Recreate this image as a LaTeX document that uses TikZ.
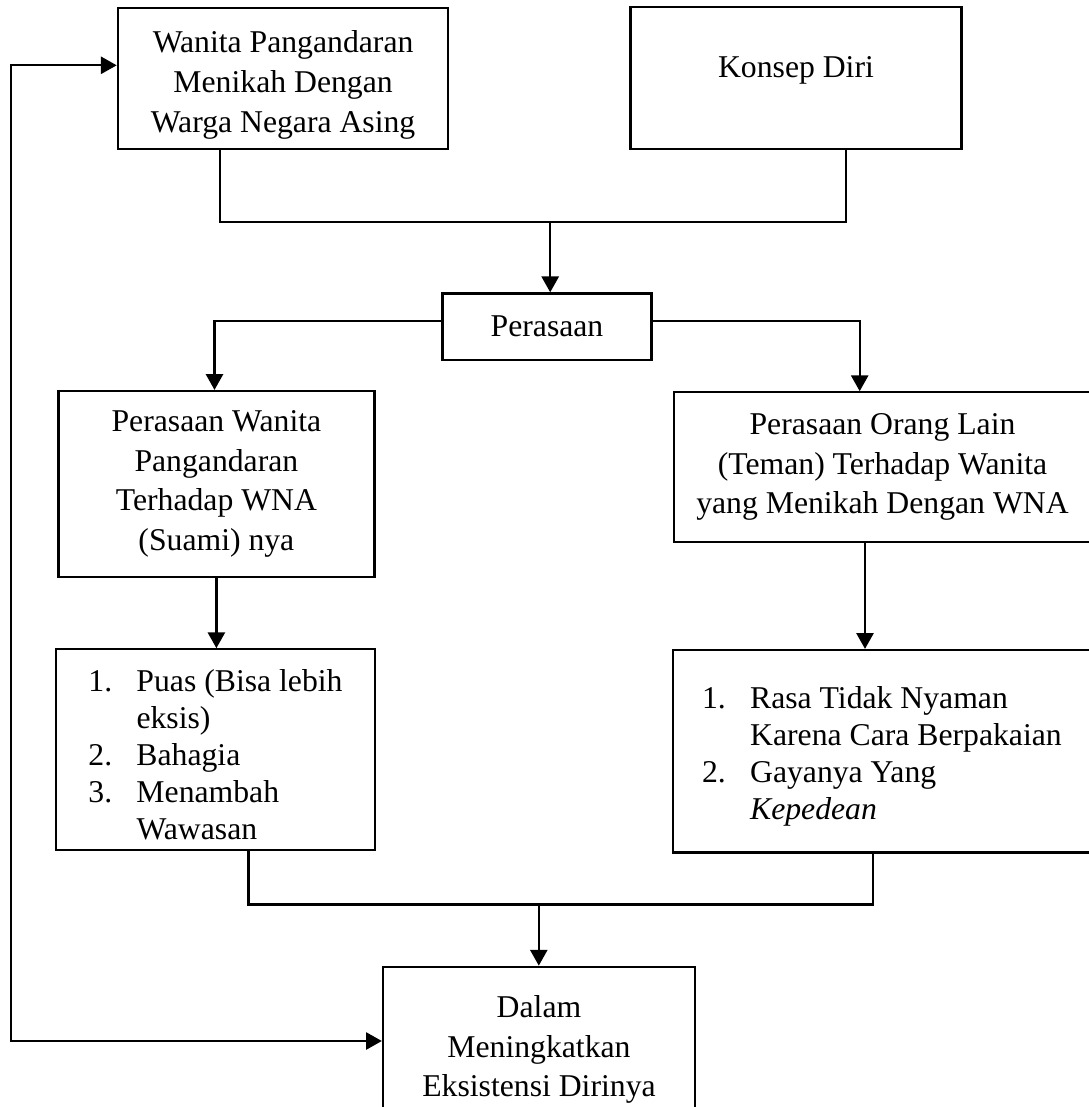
\documentclass[tikz,border=0pt]{standalone}
\usepackage{fontspec}
\setmainfont{Liberation Serif}
\usetikzlibrary{arrows.meta}

\begin{document}
\begin{tikzpicture}[x=0.3785pt, y=-0.3785pt,
    box/.style={draw, line width=0.85pt, align=center, inner sep=0pt,
                font=\fontsize{12}{15}\selectfont},
    listbox/.style={box, font=\fontsize{12}{14}\selectfont},
    link/.style={line width=0.85pt},
    arr/.style={-{Triangle[length=6pt,width=6.5pt]}, line width=0.85pt},
    dblarr/.style={{Triangle[length=6pt,width=6.5pt]}-{Triangle[length=6pt,width=6.5pt]}, line width=0.85pt}
  ]
  \useasboundingbox (0,0) rectangle (1089,1107);
  \clip (0,0) rectangle (1089,1107);

  \node[box, minimum width=125.1pt, minimum height=53.3pt] (wanita) at (283.1,78.7)
    {\rule{0pt}{13pt}Wanita Pangandaran\\Menikah Dengan\\Warga Negara Asing};
  \node[box, minimum width=125.2pt, minimum height=53.7pt, text height=8pt, text depth=8pt] (konsep) at (796,77.7)
    {Konsep Diri};
  \node[box, minimum width=79.1pt, minimum height=25.2pt] (perasaan) at (547,326.7) {Perasaan};
  \node[box, minimum width=119.6pt, minimum height=70.3pt] (fwanita) at (216.4,483.9)
    {Perasaan Wanita\\Pangandaran\\Terhadap WNA\\(Suami) nya};
  \node[box, minimum width=157.6pt, minimum height=56.7pt] (forang) at (882.5,467.2)
    {Perasaan Orang Lain\\(Teman) Terhadap Wanita\\yang Menikah Dengan WNA};
  \node[listbox, minimum width=121pt, minimum height=75.4pt] (puas) at (215.5,749.7)
    {\begin{tabular}{@{}p{18.2pt}@{}l@{}}
      1. & \rule{0pt}{15.8pt}Puas (Bisa lebih\\
         & eksis)\\
      2. & Bahagia\\
      3. & Menambah\\
         & Wawasan
     \end{tabular}};
  \node[listbox, minimum width=158.3pt, minimum height=76.6pt] (rasa) at (881.9,751.2)
    {\begin{tabular}{@{}p{18.2pt}@{}l@{}}
      1. & \rule{0pt}{13.8pt}Rasa Tidak Nyaman\\
         & Karena Cara Berpakaian\\
      2. & Gayanya Yang\\
         & \textit{Kepedean}
     \end{tabular}};
  \node[box, minimum width=118.1pt, minimum height=58.4pt] (dalam) at (539,1043.9)
    {\rule{0pt}{12.5pt}Dalam\\Meningkatkan\\Eksistensi Dirinya};

  \coordinate (jl) at (220,222.3);
  \coordinate (jm) at (550.2,222.3);
  \coordinate (jr) at (846.2,222.3);
  \draw[link] (wanita.south -| jl) -- (jl) -- (jr) -- (konsep.south -| jr);
  \draw[arr] (jm) -- (jm |- perasaan.north);

  \coordinate (bl) at (214.5,321);
  \coordinate (br) at (859.7,321);
  \draw[arr] (perasaan.west |- bl) -- (bl) -- (bl |- fwanita.north);
  \draw[arr] (perasaan.east |- br) -- (br) -- (br |- forang.north);

  \draw[arr] (fwanita.south) -- (fwanita.south |- puas.north);
  \coordinate (rv) at (865,600);
  \draw[arr] (forang.south -| rv) -- (rv |- rasa.north);

  \coordinate (ql) at (248.5,904.5);
  \coordinate (qm) at (538.8,904.5);
  \coordinate (qr) at (872.9,904.5);
  \draw[link] (puas.south -| ql) -- (ql) -- (qr) -- (rasa.south -| qr);
  \draw[arr] (qm) -- (qm |- dalam.north);

  \coordinate (ft) at (11.1,65.3);
  \coordinate (fb) at (11.1,1041);
  \draw[dblarr] (ft -| wanita.west) -- (ft) -- (fb) -- (fb -| dalam.west);
\end{tikzpicture}
\end{document}
